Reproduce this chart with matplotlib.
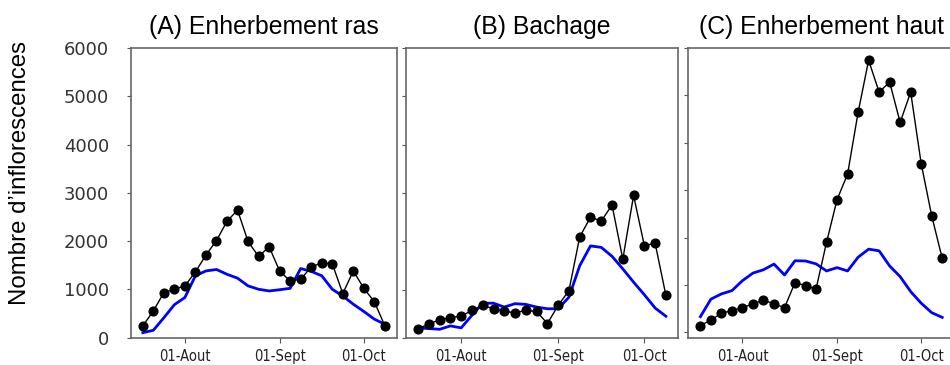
import numpy as np
import matplotlib.pyplot as plt

# sampling dates (two per week), tick labels at 1 Aug, 1 Sept, 1 Oct
tick_pos = [4, 13, 21]
tick_labels = ['01-Aout', '01-Sept', '01-Oct']

titles = ['(A) Enherbement ras', '(B) Bachage', '(C) Enherbement haut']

# observed counts (black) and simulated counts (blue)
obs_ras = [240, 550, 930, 1000, 1070, 1360, 1710, 2010, 2410, 2640, 1990, 1680,
           1880, 1380, 1170, 1210, 1460, 1550, 1530, 910, 1380, 1020, 740, 240]
sim_ras = [100, 150, 410, 680, 830, 1280, 1380, 1410, 1310, 1230, 1070, 1000,
           965, 990, 1020, 1430, 1370, 1280, 1000, 860, 690, 540, 380, 275]

obs_bach = [195, 285, 380, 420, 455, 570, 675, 605, 550, 525, 570, 550,
            300, 675, 980, 2090, 2500, 2420, 2750, 1630, 2950, 1910, 1960, 880]
sim_bach = [210, 195, 180, 250, 210, 470, 720, 720, 640, 710, 695, 640,
            605, 605, 845, 1495, 1905, 1875, 1690, 1430, 1155, 895, 620, 450]

obs_haut = [140, 260, 400, 460, 520, 600, 680, 600, 520, 1050, 985, 915,
            1900, 2800, 3340, 4640, 5740, 5070, 5280, 4430, 5070, 3560, 2460, 1560]
sim_haut = [330, 700, 810, 880, 1090, 1250, 1320, 1440, 1210, 1510, 1505, 1445,
            1295, 1365, 1295, 1585, 1755, 1720, 1400, 1175, 860, 615, 415, 315]

observed = [obs_ras, obs_bach, obs_haut]
simulated = [sim_ras, sim_bach, sim_haut]
ylims = [(-10, 6000), (30, 6000), (-120, 6000)]

fig = plt.figure(figsize=(9.5, 3.65), dpi=100)
boxes = [(130.7, 266.3), (405.7, 272.6), (688.3, 266.0)]

for i in range(3):
    left, width = boxes[i]
    ax = fig.add_axes([left / 950, 27 / 365, width / 950, 290 / 365])
    x = np.arange(len(observed[i]))
    ax.plot(x, simulated[i], color='#0000ff', lw=2)
    ax.plot(x, observed[i], color='black', lw=1, marker='o', ms=6.3)
    ax.set_ylim(*ylims[i])
    ax.set_yticks(range(0, 7000, 1000))
    ax.set_xticks(tick_pos)
    ax.set_xticklabels(tick_labels, family='DejaVu Sans', stretch='condensed',
                       fontsize=10.5, color='#222222')
    if i == 0:
        ax.set_yticklabels([str(v) for v in range(0, 7000, 1000)],
                           fontsize=13, color='#333333')
    else:
        ax.set_yticklabels([])
    ax.tick_params(axis='y', length=3, pad=12.5, color='#555555')
    ax.tick_params(axis='x', length=3.5, pad=4.5, color='#555555')
    for s in ax.spines.values():
        s.set_color('#666666')
        s.set_linewidth(1.2)
    ax.set_title(titles[i], family='Liberation Sans', fontsize=17.8, pad=10)

fig.text(20 / 950, 192 / 365, 'Nombre d’inflorescences', rotation=90,
         ha='center', va='center', family='Liberation Sans', fontsize=17.3)

plt.savefig('out.png', dpi=100)
